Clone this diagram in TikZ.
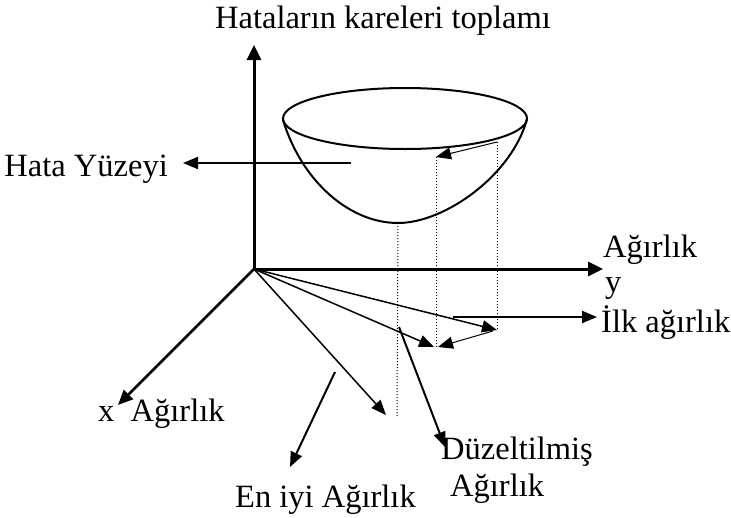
\documentclass[tikz,border=0pt]{standalone}
\usepackage{fontspec}
\setmainfont{Liberation Serif}
\usetikzlibrary{arrows.meta}
\begin{document}
\begin{tikzpicture}[x=1pt,y=-1pt,
  lbl/.style={inner sep=0pt,anchor=base west,font=\fontsize{32.5}{36}\selectfont},
  axis/.style={line width=3pt,-{Triangle[length=15pt,width=14pt]}},
  ray/.style={line width=1.5pt,-{Triangle[length=15pt,width=12pt]}},
  pointer/.style={line width=2pt,-{Triangle[length=15pt,width=12pt]}},
  guide/.style={line width=1pt,dotted},
  bowl/.style={line width=2pt}]
\useasboundingbox (0,0) rectangle (731,517);
% coordinates
\coordinate (O) at (254,269);
\coordinate (Zt) at (254,45);
\coordinate (Yt) at (603,269);
\coordinate (Xt) at (118,405);
\coordinate (R1) at (497,330);
\coordinate (R2) at (434,347);
\coordinate (R3) at (386,415);
\coordinate (R1s) at (493,331);
\coordinate (R2e) at (438,347);
\coordinate (B0) at (398,223);
\coordinate (D1) at (397,417);
\coordinate (P2) at (436,157);
\coordinate (D2) at (436,347);
\coordinate (P3) at (497,142);
\coordinate (D3) at (497,330);
\coordinate (HYs) at (351,163);
\coordinate (HYe) at (183,163);
\coordinate (DZs) at (399,327);
\coordinate (DZe) at (445,447);
\coordinate (EIs) at (335,372);
\coordinate (EIe) at (290,467);
\coordinate (IAs) at (453,317);
\coordinate (IAe) at (597,317);
% labels
\node[lbl,anchor=base] (top) at (383,28) {Hataların kareleri toplamı};
\node[lbl,anchor=base east] (hy) at (168,176) {Hata Yüzeyi};
\node[lbl] (ag) at (603,257) {Ağırlık};
\node[lbl] (yl) at (605,292) {y};
\node[lbl] (ilk) at (601,332) {İlk ağırlık};
\node[lbl] (xl) at (98,421) {x\enspace Ağırlık};
\node[lbl] (en) at (235,507) {En iyi Ağırlık};
\node[lbl] (dz) at (441,459) {Düzeltilmiş};
\node[lbl] (dza) at (450,496) {Ağırlık};
% bowl
\draw[bowl] (405,118.5) ellipse [x radius=122, y radius=30.5];
\draw[bowl] (283,120) .. controls (302,182) and (350,223) .. (B0)
  .. controls (445,223) and (512,175) .. (527,119);
% dotted guides
\draw[guide] (B0) -- (D1);
\draw[guide] (P2) -- (D2);
\draw[guide] (P3) -- (D3);
% axes
\draw[axis] (O) -- (Zt);
\draw[axis] (O) -- (Yt);
\draw[line width=2.5pt,-{Triangle[length=15pt,width=13pt]}] (O) -- (Xt);
% rays
\draw[ray] (O) -- (R1);
\draw[ray] (O) -- (R2);
\draw[ray] (O) -- (R3);
\draw[line width=1pt,-{Triangle[length=15pt,width=12pt]}] (R1s) -- (R2e);
\draw[line width=1pt,-{Triangle[length=15pt,width=12pt]}] (P3) -- (P2);
% pointers
\draw[pointer] (HYs) -- (HYe);
\draw[pointer] (DZs) -- (DZe);
\draw[pointer] (EIs) -- (EIe);
\draw[pointer] (IAs) -- (IAe);
\end{tikzpicture}
\end{document}
